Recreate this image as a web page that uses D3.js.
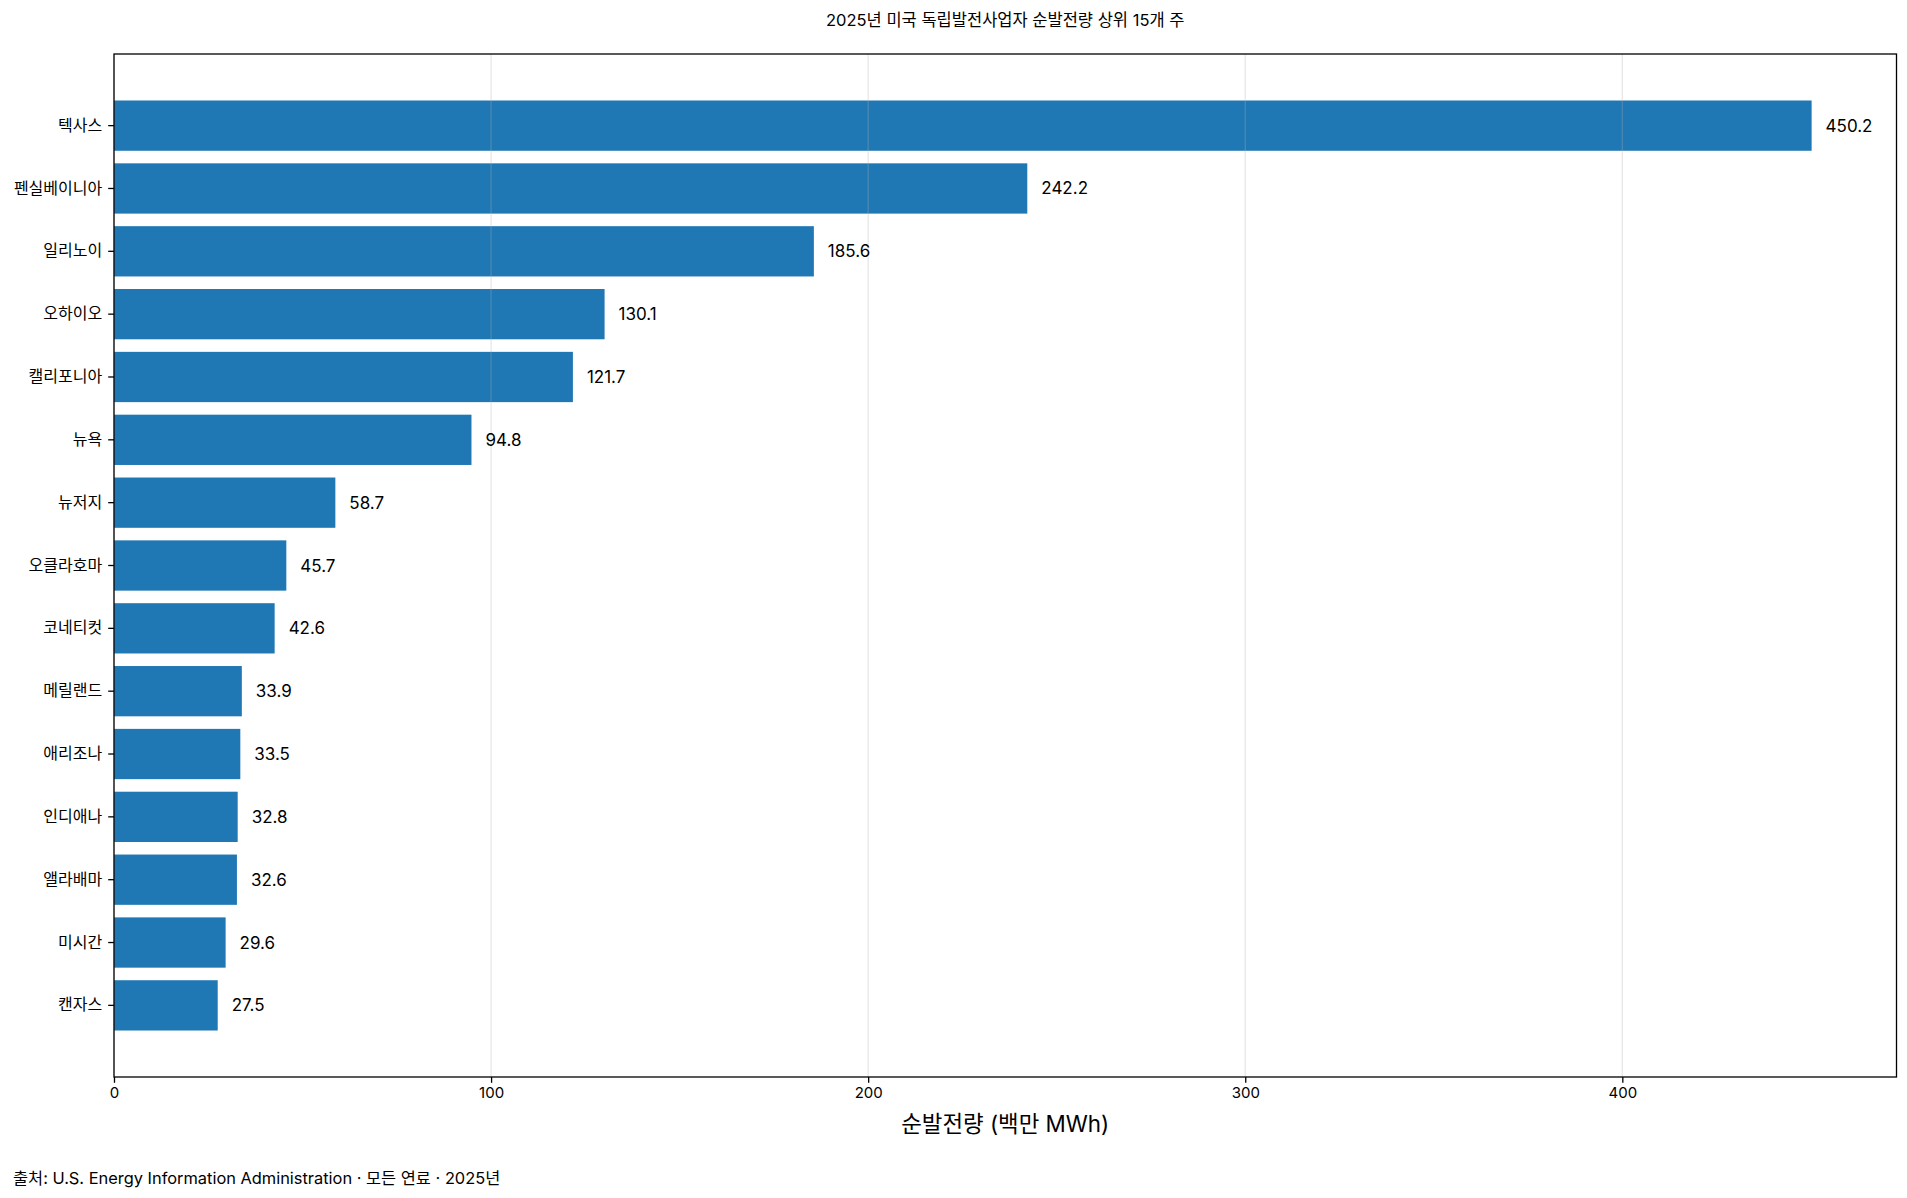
<!DOCTYPE html>
<html><head><meta charset="utf-8">
<script src="https://cdn.jsdelivr.net/npm/d3@7/dist/d3.min.js"></script>
<style>
body{margin:0;background:#fff;}
svg text{font-family:Inter,"Noto Sans CJK KR",sans-serif;fill:#000;}
</style></head>
<body><svg id="c" width="1907" height="1198"></svg>
<script>
const states = ["텍사스","펜실베이니아","일리노이","오하이오","캘리포니아","뉴욕","뉴저지","오클라호마","코네티컷","메릴랜드","애리조나","인디애나","앨라배마","미시간","캔자스"];
const values = [450.2,242.2,185.6,130.1,121.7,94.8,58.7,45.7,42.6,33.9,33.5,32.8,32.6,29.6,27.5];
const xTicks = [0,100,200,300,400];
const titleText = "2025년 미국 독립발전사업자 순발전량 상위 15개 주";
const xLabelText = "순발전량 (백만 MWh)";
const sourceText = "출처: U.S. Energy Information Administration · 모든 연료 · 2025년";

const FONT = 'Inter,"Noto Sans CJK KR",sans-serif';
const svg = d3.select("#c");
const L = 114, R = 1896.5, T = 54, B = 1077;
const n = states.length;
const x = d3.scaleLinear().domain([0, d3.max(values) * 1.05]).range([L, R]);
const lo = -0.4, hi = n - 1 + 0.4, pad = (hi - lo) * 0.05;
const y = d3.scaleLinear().domain([lo - pad, hi + pad]).range([T, B]);
const bh = y(0.8) - y(0);

const data = states.map((s, i) => ({s, v: values[i], i}));

svg.append("g").selectAll("rect").data(data).join("rect")
  .attr("x", x(0)).attr("y", d => y(d.i - 0.4))
  .attr("width", d => x(d.v) - x(0)).attr("height", bh)
  .attr("fill", "#1f77b4");

svg.append("g").selectAll("line").data(xTicks).join("line")
  .attr("x1", d => x(d)).attr("x2", d => x(d)).attr("y1", T).attr("y2", B)
  .attr("stroke", "#b0b0b0").attr("stroke-opacity", 0.3).attr("stroke-width", 1.3);

svg.append("g").selectAll("text").data(data).join("text")
  .attr("x", d => x(d.v) + 14).attr("y", d => y(d.i))
  .attr("dominant-baseline", "central").attr("font-size", 17)
  .text(d => d.v.toFixed(1));

svg.append("rect").attr("x", L).attr("y", T).attr("width", R - L).attr("height", B - T)
  .attr("fill", "none").attr("stroke", "#000").attr("stroke-width", 1.3);

const xa = svg.append("g").attr("transform", `translate(0,${B})`)
  .call(d3.axisBottom(x).tickValues(xTicks).tickSize(5.8).tickPadding(5).tickFormat(d3.format("d")));
xa.select(".domain").remove();
xa.selectAll("line").attr("stroke-width", 1.3);
xa.selectAll("text").attr("font-size", 15).attr("font-family", FONT);

const yb = d3.scaleBand().domain(states).range([y(-0.5), y(n - 0.5)]);
const ya = svg.append("g").attr("transform", `translate(${L},0)`)
  .call(d3.axisLeft(yb).tickSize(5.8).tickPadding(6));
ya.select(".domain").remove();
ya.selectAll("line").attr("stroke-width", 1.3);
ya.selectAll("text").attr("font-size", 16).attr("font-family", FONT);

svg.append("text").attr("x", (L + R) / 2).attr("y", 20).attr("text-anchor", "middle")
  .attr("dominant-baseline", "central").attr("font-size", 16.5).text(titleText);
svg.append("text").attr("x", (L + R) / 2).attr("y", 1123).attr("text-anchor", "middle")
  .attr("dominant-baseline", "central").attr("font-size", 22.4).text(xLabelText);
svg.append("text").attr("x", 13).attr("y", 1178)
  .attr("dominant-baseline", "central").attr("font-size", 16.4).text(sourceText);
</script></body></html>
